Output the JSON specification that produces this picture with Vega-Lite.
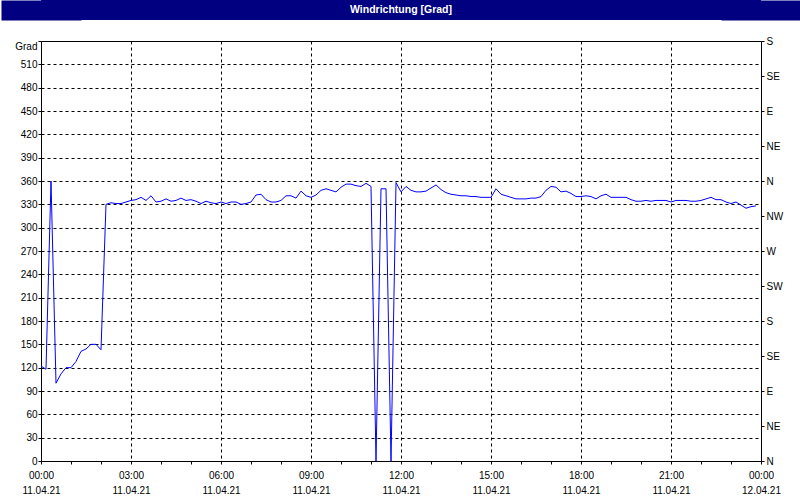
{
  "$schema": "https://vega.github.io/schema/vega-lite/v6.json",
  "padding": 0,
  "background": "white",
  "spacing": 15,
  "columns": 1,
  "align": "none",
  "bounds": "full",
  "config": {
    "view": {"stroke": null},
    "font": "Liberation Sans",
    "axis": {"labelFont": "Liberation Sans", "labelFontSize": 10, "labelColor": "black", "tickColor": "black"}
  },
  "concat": [
    {
      "width": 720,
      "height": 20,
      "view": {"fill": "#000080", "stroke": null},
      "data": {"values": [{"title": "Windrichtung [Grad]"}]},
      "layer": [
        {
          "mark": {"type": "text", "color": "white", "fontWeight": "bold", "fontSize": 10.5, "font": "Liberation Sans"},
          "encoding": {
            "text": {"field": "title", "type": "nominal"},
            "y": {"field": "title", "type": "nominal", "axis": {"orient": "left", "title": null, "labels": false, "ticks": false, "grid": false, "domain": true, "domainWidth": 80, "domainColor": "#000080", "domainCap": "butt"}}
          }
        },
        {
          "mark": {"type": "text", "opacity": 0},
          "encoding": {
            "text": {"field": "title", "type": "nominal"},
            "y": {"field": "title", "type": "nominal", "axis": {"orient": "right", "title": null, "labels": false, "ticks": false, "grid": false, "domain": true, "domainWidth": 80, "domainColor": "#000080", "domainCap": "butt"}}
          }
        }
      ],
      "resolve": {"axis": {"y": "independent"}}
    },
    {
      "width": 720,
      "height": 420,
      "view": {"stroke": "black", "strokeWidth": 1},
      "data": {"values": [
        {"t": "2021-04-11T00:00:00Z", "deg": 122},
        {"t": "2021-04-11T00:10:00Z", "deg": 118},
        {"t": "2021-04-11T00:20:00Z", "deg": 360},
        {"t": "2021-04-11T00:30:00Z", "deg": 100},
        {"t": "2021-04-11T00:40:00Z", "deg": 112},
        {"t": "2021-04-11T00:50:00Z", "deg": 120},
        {"t": "2021-04-11T01:00:00Z", "deg": 120},
        {"t": "2021-04-11T01:10:00Z", "deg": 128},
        {"t": "2021-04-11T01:20:00Z", "deg": 141},
        {"t": "2021-04-11T01:30:00Z", "deg": 144},
        {"t": "2021-04-11T01:40:00Z", "deg": 150},
        {"t": "2021-04-11T01:50:00Z", "deg": 150},
        {"t": "2021-04-11T02:00:00Z", "deg": 143},
        {"t": "2021-04-11T02:10:00Z", "deg": 330},
        {"t": "2021-04-11T02:20:00Z", "deg": 332},
        {"t": "2021-04-11T02:30:00Z", "deg": 331},
        {"t": "2021-04-11T02:40:00Z", "deg": 331},
        {"t": "2021-04-11T02:50:00Z", "deg": 333},
        {"t": "2021-04-11T03:00:00Z", "deg": 335},
        {"t": "2021-04-11T03:10:00Z", "deg": 336},
        {"t": "2021-04-11T03:20:00Z", "deg": 339},
        {"t": "2021-04-11T03:30:00Z", "deg": 335},
        {"t": "2021-04-11T03:40:00Z", "deg": 341},
        {"t": "2021-04-11T03:50:00Z", "deg": 333},
        {"t": "2021-04-11T04:00:00Z", "deg": 334},
        {"t": "2021-04-11T04:10:00Z", "deg": 337},
        {"t": "2021-04-11T04:20:00Z", "deg": 334},
        {"t": "2021-04-11T04:30:00Z", "deg": 335},
        {"t": "2021-04-11T04:40:00Z", "deg": 338},
        {"t": "2021-04-11T04:50:00Z", "deg": 335},
        {"t": "2021-04-11T05:00:00Z", "deg": 336},
        {"t": "2021-04-11T05:10:00Z", "deg": 334},
        {"t": "2021-04-11T05:20:00Z", "deg": 331},
        {"t": "2021-04-11T05:30:00Z", "deg": 334},
        {"t": "2021-04-11T05:40:00Z", "deg": 332},
        {"t": "2021-04-11T05:50:00Z", "deg": 331},
        {"t": "2021-04-11T06:00:00Z", "deg": 333},
        {"t": "2021-04-11T06:10:00Z", "deg": 331},
        {"t": "2021-04-11T06:20:00Z", "deg": 333},
        {"t": "2021-04-11T06:30:00Z", "deg": 333},
        {"t": "2021-04-11T06:40:00Z", "deg": 330},
        {"t": "2021-04-11T06:50:00Z", "deg": 331},
        {"t": "2021-04-11T07:00:00Z", "deg": 333},
        {"t": "2021-04-11T07:10:00Z", "deg": 342},
        {"t": "2021-04-11T07:20:00Z", "deg": 343},
        {"t": "2021-04-11T07:30:00Z", "deg": 336},
        {"t": "2021-04-11T07:40:00Z", "deg": 333},
        {"t": "2021-04-11T07:50:00Z", "deg": 333},
        {"t": "2021-04-11T08:00:00Z", "deg": 335},
        {"t": "2021-04-11T08:10:00Z", "deg": 341},
        {"t": "2021-04-11T08:20:00Z", "deg": 341},
        {"t": "2021-04-11T08:30:00Z", "deg": 338},
        {"t": "2021-04-11T08:40:00Z", "deg": 347},
        {"t": "2021-04-11T08:50:00Z", "deg": 341},
        {"t": "2021-04-11T09:00:00Z", "deg": 339},
        {"t": "2021-04-11T09:10:00Z", "deg": 342},
        {"t": "2021-04-11T09:20:00Z", "deg": 348},
        {"t": "2021-04-11T09:30:00Z", "deg": 350},
        {"t": "2021-04-11T09:40:00Z", "deg": 348},
        {"t": "2021-04-11T09:50:00Z", "deg": 346},
        {"t": "2021-04-11T10:00:00Z", "deg": 352},
        {"t": "2021-04-11T10:10:00Z", "deg": 356},
        {"t": "2021-04-11T10:20:00Z", "deg": 356},
        {"t": "2021-04-11T10:30:00Z", "deg": 354},
        {"t": "2021-04-11T10:40:00Z", "deg": 353},
        {"t": "2021-04-11T10:50:00Z", "deg": 357},
        {"t": "2021-04-11T11:00:00Z", "deg": 353},
        {"t": "2021-04-11T11:10:00Z", "deg": 0},
        {"t": "2021-04-11T11:20:00Z", "deg": 350},
        {"t": "2021-04-11T11:30:00Z", "deg": 350},
        {"t": "2021-04-11T11:40:00Z", "deg": 0},
        {"t": "2021-04-11T11:50:00Z", "deg": 358},
        {"t": "2021-04-11T12:00:00Z", "deg": 346},
        {"t": "2021-04-11T12:10:00Z", "deg": 353},
        {"t": "2021-04-11T12:20:00Z", "deg": 348},
        {"t": "2021-04-11T12:30:00Z", "deg": 346},
        {"t": "2021-04-11T12:40:00Z", "deg": 346},
        {"t": "2021-04-11T12:50:00Z", "deg": 347},
        {"t": "2021-04-11T13:00:00Z", "deg": 351},
        {"t": "2021-04-11T13:10:00Z", "deg": 355},
        {"t": "2021-04-11T13:20:00Z", "deg": 349},
        {"t": "2021-04-11T13:30:00Z", "deg": 345},
        {"t": "2021-04-11T13:40:00Z", "deg": 343},
        {"t": "2021-04-11T13:50:00Z", "deg": 342},
        {"t": "2021-04-11T14:00:00Z", "deg": 341},
        {"t": "2021-04-11T14:10:00Z", "deg": 341},
        {"t": "2021-04-11T14:20:00Z", "deg": 340},
        {"t": "2021-04-11T14:30:00Z", "deg": 340},
        {"t": "2021-04-11T14:40:00Z", "deg": 339},
        {"t": "2021-04-11T14:50:00Z", "deg": 339},
        {"t": "2021-04-11T15:00:00Z", "deg": 339},
        {"t": "2021-04-11T15:10:00Z", "deg": 350},
        {"t": "2021-04-11T15:20:00Z", "deg": 343},
        {"t": "2021-04-11T15:30:00Z", "deg": 341},
        {"t": "2021-04-11T15:40:00Z", "deg": 339},
        {"t": "2021-04-11T15:50:00Z", "deg": 337},
        {"t": "2021-04-11T16:00:00Z", "deg": 337},
        {"t": "2021-04-11T16:10:00Z", "deg": 337},
        {"t": "2021-04-11T16:20:00Z", "deg": 338},
        {"t": "2021-04-11T16:30:00Z", "deg": 338},
        {"t": "2021-04-11T16:40:00Z", "deg": 340},
        {"t": "2021-04-11T16:50:00Z", "deg": 348},
        {"t": "2021-04-11T17:00:00Z", "deg": 353},
        {"t": "2021-04-11T17:10:00Z", "deg": 352},
        {"t": "2021-04-11T17:20:00Z", "deg": 346},
        {"t": "2021-04-11T17:30:00Z", "deg": 347},
        {"t": "2021-04-11T17:40:00Z", "deg": 344},
        {"t": "2021-04-11T17:50:00Z", "deg": 340},
        {"t": "2021-04-11T18:00:00Z", "deg": 340},
        {"t": "2021-04-11T18:10:00Z", "deg": 341},
        {"t": "2021-04-11T18:20:00Z", "deg": 340},
        {"t": "2021-04-11T18:30:00Z", "deg": 337},
        {"t": "2021-04-11T18:40:00Z", "deg": 341},
        {"t": "2021-04-11T18:50:00Z", "deg": 343},
        {"t": "2021-04-11T19:00:00Z", "deg": 339},
        {"t": "2021-04-11T19:10:00Z", "deg": 339},
        {"t": "2021-04-11T19:20:00Z", "deg": 339},
        {"t": "2021-04-11T19:30:00Z", "deg": 339},
        {"t": "2021-04-11T19:40:00Z", "deg": 336},
        {"t": "2021-04-11T19:50:00Z", "deg": 334},
        {"t": "2021-04-11T20:00:00Z", "deg": 334},
        {"t": "2021-04-11T20:10:00Z", "deg": 335},
        {"t": "2021-04-11T20:20:00Z", "deg": 334},
        {"t": "2021-04-11T20:30:00Z", "deg": 335},
        {"t": "2021-04-11T20:40:00Z", "deg": 335},
        {"t": "2021-04-11T20:50:00Z", "deg": 335},
        {"t": "2021-04-11T21:00:00Z", "deg": 333},
        {"t": "2021-04-11T21:10:00Z", "deg": 335},
        {"t": "2021-04-11T21:20:00Z", "deg": 335},
        {"t": "2021-04-11T21:30:00Z", "deg": 335},
        {"t": "2021-04-11T21:40:00Z", "deg": 334},
        {"t": "2021-04-11T21:50:00Z", "deg": 334},
        {"t": "2021-04-11T22:00:00Z", "deg": 335},
        {"t": "2021-04-11T22:10:00Z", "deg": 337},
        {"t": "2021-04-11T22:20:00Z", "deg": 339},
        {"t": "2021-04-11T22:30:00Z", "deg": 336},
        {"t": "2021-04-11T22:40:00Z", "deg": 336},
        {"t": "2021-04-11T22:50:00Z", "deg": 333},
        {"t": "2021-04-11T23:00:00Z", "deg": 331},
        {"t": "2021-04-11T23:10:00Z", "deg": 333},
        {"t": "2021-04-11T23:20:00Z", "deg": 329},
        {"t": "2021-04-11T23:30:00Z", "deg": 325},
        {"t": "2021-04-11T23:40:00Z", "deg": 327},
        {"t": "2021-04-11T23:50:00Z", "deg": 328}
      ]},
      "layer": [
        {
          "mark": {"type": "line", "color": "#0000FF", "strokeWidth": 1},
          "encoding": {
            "x": {
              "field": "t", "type": "temporal",
              "scale": {"type": "utc", "domain": [{"year": 2021, "month": 4, "date": 11, "hours": 0, "utc": true}, {"year": 2021, "month": 4, "date": 12, "hours": 0, "utc": true}], "nice": false},
              "axis": {
                "title": null,
                "tickCount": 50,
                "values": [
                  {"year": 2021, "month": 4, "date": 11, "hours": 0, "utc": true},
                  {"year": 2021, "month": 4, "date": 11, "hours": 1, "utc": true},
                  {"year": 2021, "month": 4, "date": 11, "hours": 2, "utc": true},
                  {"year": 2021, "month": 4, "date": 11, "hours": 3, "utc": true},
                  {"year": 2021, "month": 4, "date": 11, "hours": 4, "utc": true},
                  {"year": 2021, "month": 4, "date": 11, "hours": 5, "utc": true},
                  {"year": 2021, "month": 4, "date": 11, "hours": 6, "utc": true},
                  {"year": 2021, "month": 4, "date": 11, "hours": 7, "utc": true},
                  {"year": 2021, "month": 4, "date": 11, "hours": 8, "utc": true},
                  {"year": 2021, "month": 4, "date": 11, "hours": 9, "utc": true},
                  {"year": 2021, "month": 4, "date": 11, "hours": 10, "utc": true},
                  {"year": 2021, "month": 4, "date": 11, "hours": 11, "utc": true},
                  {"year": 2021, "month": 4, "date": 11, "hours": 12, "utc": true},
                  {"year": 2021, "month": 4, "date": 11, "hours": 13, "utc": true},
                  {"year": 2021, "month": 4, "date": 11, "hours": 14, "utc": true},
                  {"year": 2021, "month": 4, "date": 11, "hours": 15, "utc": true},
                  {"year": 2021, "month": 4, "date": 11, "hours": 16, "utc": true},
                  {"year": 2021, "month": 4, "date": 11, "hours": 17, "utc": true},
                  {"year": 2021, "month": 4, "date": 11, "hours": 18, "utc": true},
                  {"year": 2021, "month": 4, "date": 11, "hours": 19, "utc": true},
                  {"year": 2021, "month": 4, "date": 11, "hours": 20, "utc": true},
                  {"year": 2021, "month": 4, "date": 11, "hours": 21, "utc": true},
                  {"year": 2021, "month": 4, "date": 11, "hours": 22, "utc": true},
                  {"year": 2021, "month": 4, "date": 11, "hours": 23, "utc": true},
                  {"year": 2021, "month": 4, "date": 12, "hours": 0, "utc": true}
                ],
                "labelExpr": "utchours(datum.value) % 3 == 0 ? [utcFormat(datum.value, '%H:%M'), utcFormat(datum.value, '%d.%m.%y')] : ''",
                "labelOverlap": false,
                "labelFlush": false,
                "labelLineHeight": 15,
                "labelPadding": 6,
                "tickSize": 3,
                "domain": false,
                "grid": true,
                "gridColor": "black",
                "gridDash": [3, 3],
                "gridOpacity": {"condition": {"test": "utchours(datum.value) % 3 == 0", "value": 1}, "value": 0}
              }
            },
            "y": {
              "field": "deg", "type": "quantitative",
              "scale": {"domain": [0, 540], "nice": false, "zero": false},
              "axis": {
                "title": null,
                "tickCount": 40,
                "values": [0, 30, 60, 90, 120, 150, 180, 210, 240, 270, 300, 330, 360, 390, 420, 450, 480, 510, 540],
                "labelExpr": "datum.value == 540 ? 'Grad' : datum.label",
                "labelBaseline": {"condition": {"test": "datum.value == 540", "value": "top"}, "value": "middle"},
                "labelOverlap": false,
                "labelFlush": false,
                "labelPadding": 1,
                "tickSize": 3,
                "domain": false,
                "minExtent": 40,
                "grid": true,
                "gridColor": "black",
                "gridOpacity": 1,
                "gridDash": [3, 3]
              }
            }
          }
        },
        {
          "mark": {"type": "point", "opacity": 0},
          "encoding": {
            "x": {"field": "t", "type": "temporal"},
            "y": {
              "field": "deg", "type": "quantitative",
              "axis": {
                "orient": "right",
                "title": null,
                "tickCount": 40,
                "values": [0, 45, 90, 135, 180, 225, 270, 315, 360, 405, 450, 495, 540],
                "labelExpr": "['N','NE','E','SE','S','SW','W','NW','N','NE','E','SE','S'][round(datum.value / 45)]",
                "labelOverlap": false,
                "labelFlush": false,
                "labelPadding": 2,
                "tickSize": 3,
                "domain": false,
                "minExtent": 40,
                "grid": false
              }
            }
          }
        }
      ],
      "resolve": {"axis": {"y": "independent"}}
    }
  ]
}
